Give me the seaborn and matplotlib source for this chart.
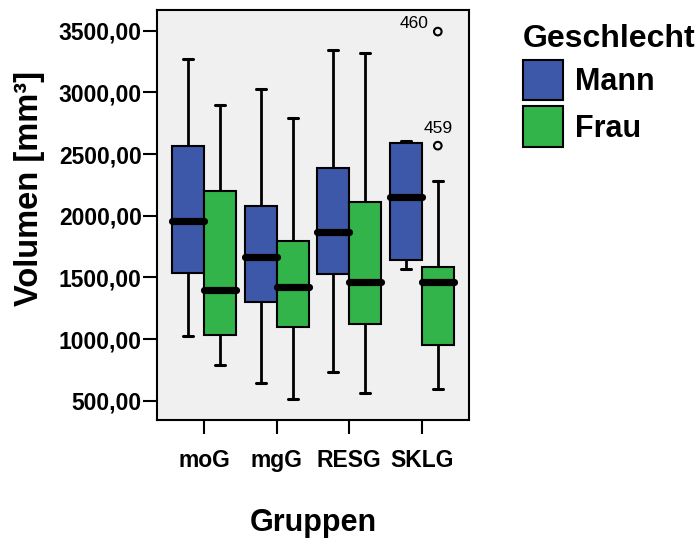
import matplotlib
matplotlib.use("Agg")
import matplotlib.pyplot as plt
from matplotlib.patches import Patch
from matplotlib.ticker import FuncFormatter
import pandas as pd
import seaborn as sns

# Volume groups and sexes
groups = ["moG", "mgG", "RESG", "SKLG"]
sexes = ["Mann", "Frau"]

# Five-number summaries per group (whisker low, Q1, median, Q3, whisker high)
mann_low = [1025, 641, 735, 1571]
mann_q1 = [1538, 1303, 1528, 1639]
mann_med = [1957, 1668, 1871, 2150]
mann_q3 = [2568, 2079, 2390, 2592]
mann_high = [3269, 3028, 3344, 2604]

frau_low = [787, 516, 565, 595]
frau_q1 = [1035, 1095, 1122, 949]
frau_med = [1400, 1425, 1465, 1460]
frau_q3 = [2203, 1795, 2114, 1587]
frau_high = [2898, 2790, 3317, 2279]

# Outlying cases
outlier_group = ["SKLG", "SKLG"]
outlier_sex = ["Frau", "Frau"]
outlier_value = [2568, 3493]
outlier_case = ["459", "460"]

y_ticks = [500, 1000, 1500, 2000, 2500, 3000, 3500]

palette = {"Mann": "#3E58A9", "Frau": "#33B44A"}

rows = []
summaries = {
    "Mann": [mann_low, mann_q1, mann_med, mann_q3, mann_high],
    "Frau": [frau_low, frau_q1, frau_med, frau_q3, frau_high],
}
for sex in sexes:
    cols = summaries[sex]
    for i, g in enumerate(groups):
        for col in cols:
            rows.append({"Gruppen": g, "Geschlecht": sex, "Volumen": col[i]})
df = pd.DataFrame(rows)

sns.set_theme(style="ticks")
plt.rcParams["font.family"] = ["Liberation Sans", "DejaVu Sans"]
plt.rcParams["font.weight"] = "bold"
for key in ["text.color", "axes.labelcolor", "xtick.color", "ytick.color"]:
    plt.rcParams[key] = "black"

fig = plt.figure(figsize=(7, 5.39), dpi=100)
ax = fig.add_axes([157 / 700, 1 - 420 / 539, 312 / 700, 410 / 539])
ax.set_facecolor("#F0F0F0")

box_width = 0.88
sns.boxplot(
    data=df, x="Gruppen", y="Volumen", hue="Geschlecht",
    order=groups, hue_order=sexes, palette=palette,
    width=box_width, gap=0, whis=(0, 100), showfliers=False,
    saturation=1, linecolor="black", linewidth=1.5,
    whiskerprops=dict(linewidth=2.0),
    capprops=dict(linewidth=2.2),
    medianprops=dict(linewidth=5.2, solid_capstyle="round", zorder=5),
    capwidths=0.14,
    legend=False, ax=ax,
)

# Outliers at their dodged box positions
ox = [groups.index(g) + (sexes.index(s) - 0.5) * box_width / 2
      for g, s in zip(outlier_group, outlier_sex)]
ax.scatter(ox, outlier_value, s=30, facecolors="none", edgecolors="black",
           linewidths=1.5, zorder=6)
for x, v, c in zip(ox, outlier_value, outlier_case):
    if v > 3000:
        ax.annotate(c, (x, v), xytext=(-7, 6), textcoords="offset points",
                    ha="right", va="center", fontsize=12.5, fontweight="normal")
    else:
        ax.annotate(c, (x, v), xytext=(0, 12), textcoords="offset points",
                    ha="center", va="center", fontsize=12.5, fontweight="normal")

ax.set_xlim(-0.65, 3.65)
ax.set_ylim(343.5, 3668)
ax.set_yticks(y_ticks)
ax.yaxis.set_major_formatter(FuncFormatter(lambda v, p: f"{v:.2f}".replace(".", ",")))

for sp in ax.spines.values():
    sp.set_visible(True)
    sp.set_linewidth(1.5)
    sp.set_color("black")

ax.tick_params(axis="y", length=10, width=1.5, pad=1, labelsize=16.5)
ax.tick_params(axis="x", length=10, width=1.5, pad=11, labelsize=16.5)
for lab in ax.get_xticklabels() + ax.get_yticklabels():
    lab.set_fontweight("bold")

ax.set_xlabel("Gruppen", fontsize=22, fontweight="bold")
ax.set_ylabel("Volumen [mm³]", fontsize=23.5, fontweight="bold")
ax.xaxis.set_label_coords(0.5, -0.215)
ax.yaxis.set_label_coords(-0.36, 0.566)

handles = [Patch(facecolor=palette[s], edgecolor="black", linewidth=1.5, label=s)
           for s in sexes]
leg = fig.legend(handles=handles, title="Geschlecht", loc="upper left",
                 bbox_to_anchor=(523 / 700, 1 - 24 / 539), frameon=False,
                 prop=dict(size=22, weight="bold"),
                 title_fontproperties=dict(size=23, weight="bold"),
                 handlelength=1.3, handleheight=1.65, handletextpad=0.4,
                 labelspacing=0.2, borderpad=0, borderaxespad=0)
leg._legend_box.align = "left"

fig.savefig("out.png", dpi=100)
